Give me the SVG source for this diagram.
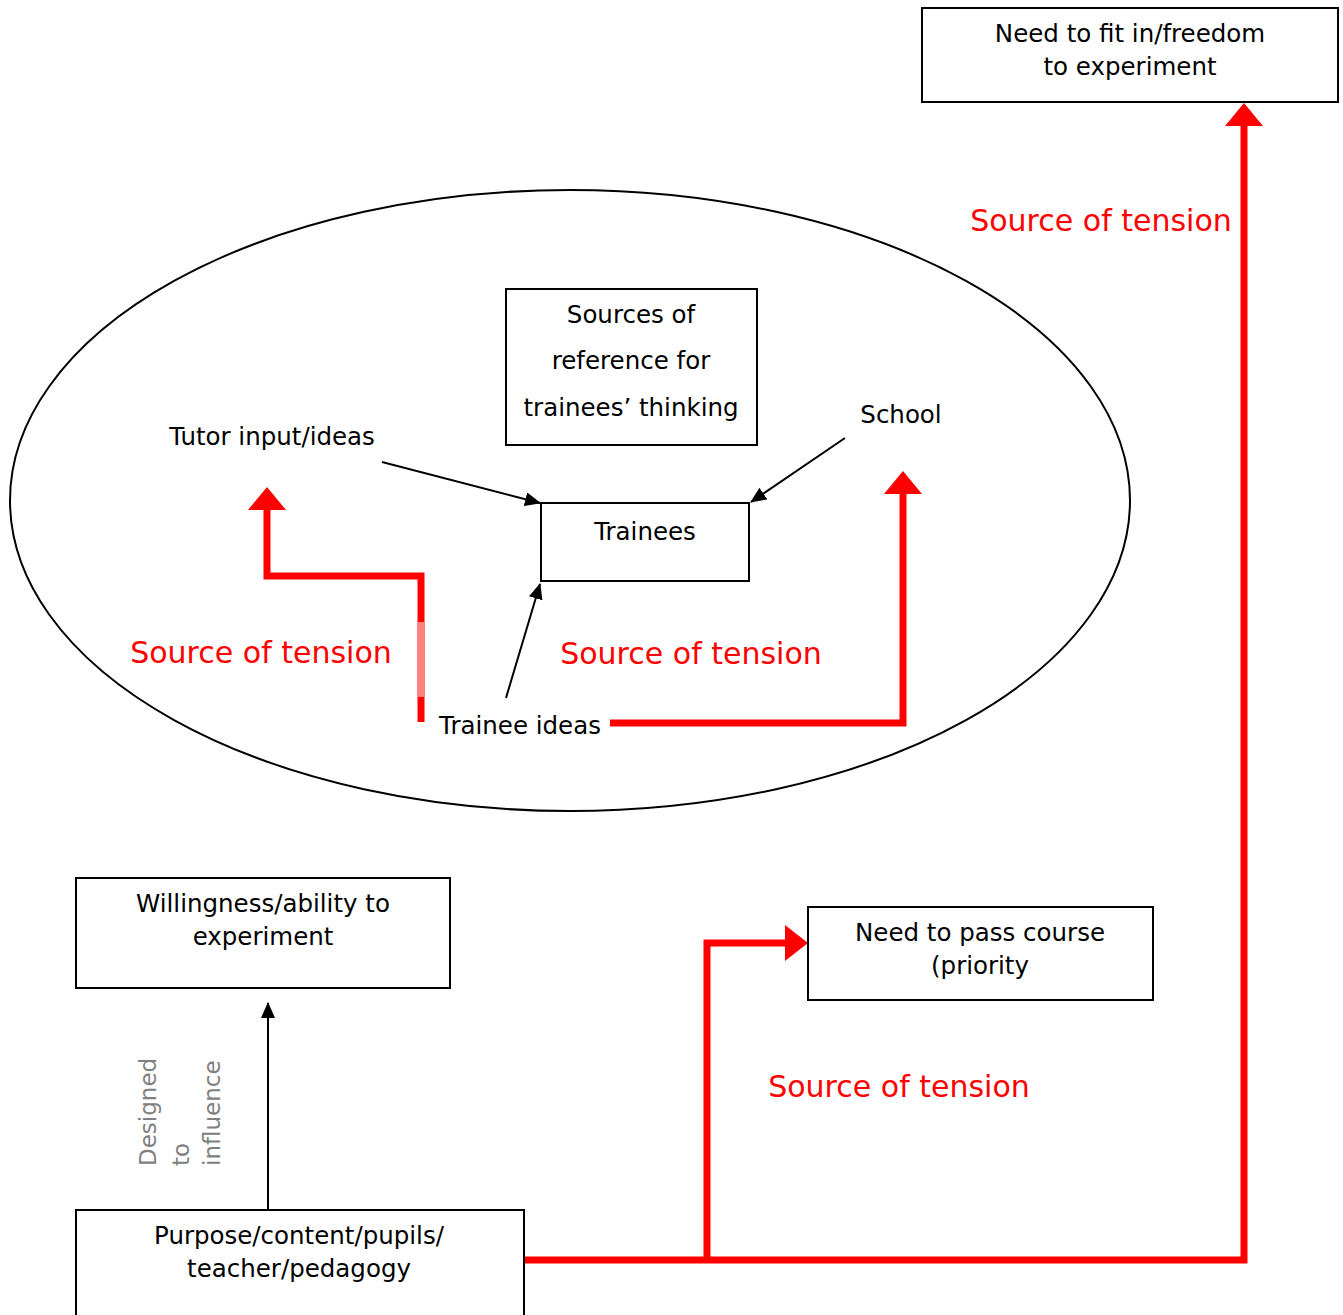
<svg xmlns="http://www.w3.org/2000/svg" width="1343" height="1315" viewBox="0 0 1343 1315">
<defs>
<style>
.box{fill:#fff;stroke:#000;stroke-width:2}
.t{font-family:"DejaVu Sans",sans-serif;font-size:24.5px;fill:#000;text-anchor:middle}
.r{font-family:"DejaVu Sans",sans-serif;font-size:30px;fill:#ff0000;text-anchor:middle}
.g{font-family:"DejaVu Sans",sans-serif;font-size:23px;fill:#808080}
.rl{fill:none;stroke:#ff0000;stroke-width:7}
.bl{fill:none;stroke:#000;stroke-width:2}
</style>
<marker id="ah" markerWidth="16" markerHeight="14" refX="15" refY="7" orient="auto" markerUnits="userSpaceOnUse" viewBox="0 0 16 14"><path d="M0,0 L16,7 L0,14 z" fill="#000"/></marker>
</defs>
<rect width="1343" height="1315" fill="#fff"/>
<g id="ellipse"><ellipse cx="570" cy="500.5" rx="560" ry="310.5" fill="none" stroke="#000" stroke-width="2"/></g>
<g id="connectors">
<line class="bl" x1="382" y1="462" x2="540" y2="503" marker-end="url(#ah)"/>
<line class="bl" x1="845" y1="438" x2="751" y2="502" marker-end="url(#ah)"/>
<line class="bl" x1="506" y1="698" x2="540" y2="584" marker-end="url(#ah)"/>
<line class="bl" x1="268" y1="1210" x2="268" y2="1003" marker-end="url(#ah)"/>
<polyline class="rl" points="421,722 421,576 267,576 267,508"/>
<line x1="421" y1="622" x2="421" y2="697" stroke="#ff8080" stroke-width="7"/>
<polygon points="267,487 248,510 286,510" fill="#ff0000"/>
<polyline class="rl" points="610,723 903,723 903,490"/>
<polygon points="903,471 884,494 922,494" fill="#ff0000"/>
<polyline class="rl" points="524,1260 1244,1260 1244,122"/>
<polygon points="1244,103 1225,126 1263,126" fill="#ff0000"/>
<polyline class="rl" points="707,1260 707,943 788,943"/>
<polygon points="808,943 785,925 785,961" fill="#ff0000"/>
</g>
<g id="n-fit"><rect class="box" x="922" y="8" width="416" height="94"/><text class="t" x="1130" y="42">Need to fit in/freedom</text><text class="t" x="1130" y="75">to experiment</text></g>
<g id="n-sources"><rect class="box" x="506" y="289" width="251" height="156"/><text class="t" x="631" y="323">Sources of</text><text class="t" x="631" y="369">reference for</text><text class="t" x="631" y="416">trainees’ thinking</text></g>
<g id="n-trainees"><rect class="box" x="541" y="503" width="208" height="78"/><text class="t" x="645" y="540">Trainees</text></g>
<g id="n-tutor"><text class="t" x="272" y="445">Tutor input/ideas</text></g>
<g id="n-school"><text class="t" x="901" y="423">School</text></g>
<g id="n-traineeideas"><text class="t" x="520" y="734">Trainee ideas</text></g>
<g id="n-willing"><rect class="box" x="76" y="878" width="374" height="110"/><text class="t" x="263" y="912">Willingness/ability to</text><text class="t" x="263" y="945">experiment</text></g>
<g id="n-pass"><rect class="box" x="808" y="907" width="345" height="93"/><text class="t" x="980" y="941">Need to pass course</text><text class="t" x="980" y="974">(priority</text></g>
<g id="n-purpose"><rect class="box" x="76" y="1210" width="448" height="110"/><text class="t" x="299" y="1244">Purpose/content/pupils/</text><text class="t" x="299" y="1277">teacher/pedagogy</text></g>
<g id="labels">
<text class="r" x="1101" y="231">Source of tension</text>
<text class="r" x="261" y="663">Source of tension</text>
<text class="r" x="691" y="664">Source of tension</text>
<text class="r" x="899" y="1097">Source of tension</text>
<g class="g"><text transform="translate(156,1166) rotate(-90)">Designed</text><text transform="translate(189,1166) rotate(-90)">to</text><text transform="translate(220,1166) rotate(-90)">influence</text></g>
</g>
</svg>
